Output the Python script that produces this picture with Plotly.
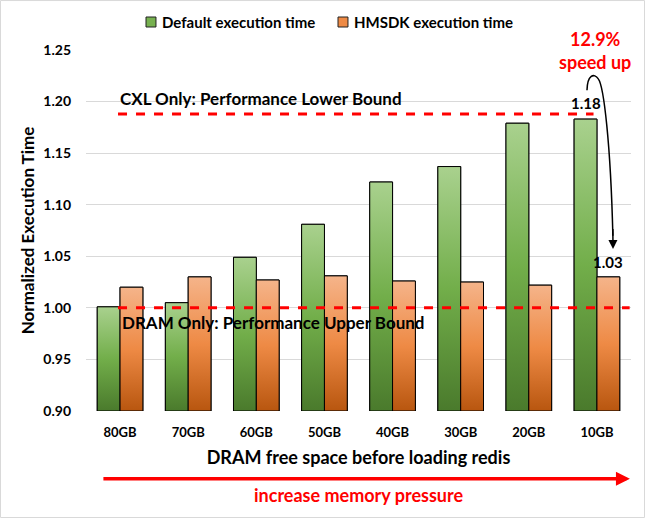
import plotly.graph_objects as go

categories = ["80GB", "70GB", "60GB", "50GB", "40GB", "30GB", "20GB", "10GB"]
default_time = [1.001, 1.005, 1.049, 1.081, 1.122, 1.137, 1.179, 1.183]
hmsdk_time = [1.020, 1.030, 1.027, 1.031, 1.026, 1.025, 1.022, 1.030]
series_names = ["Default execution time", "HMSDK execution time"]
cxl_bound = 1.188
dram_bound = 1.00
y_ticks = [0.90, 0.95, 1.00, 1.05, 1.10, 1.15, 1.20, 1.25]

FONT = "Lato"
BAR_W = 0.335
YMIN = 0.90
GREEN = "#77b150"
ORANGE = "#ee8a45"

fig = go.Figure()
idx = list(range(len(categories)))

# base bars
fig.add_trace(go.Bar(x=[i - BAR_W / 2 for i in idx], y=[v - YMIN for v in default_time], base=YMIN,
                     width=BAR_W, name=series_names[0], showlegend=False,
                     marker=dict(color=GREEN, line=dict(color="black", width=1))))
fig.add_trace(go.Bar(x=[i + BAR_W / 2 for i in idx], y=[v - YMIN for v in hmsdk_time], base=YMIN,
                     width=BAR_W, name=series_names[1], showlegend=False,
                     marker=dict(color=ORANGE, line=dict(color="black", width=1))))

green_scale = [[0, "#4a7a2c"], [0.5, "#72ae4a"], [1, "#a9d18e"]]
orange_scale = [[0, "#b8560f"], [0.5, "#ee8a45"], [1, "#f5b48a"]]

# gradient-filled bar bodies
for vals, off, scale in [(default_time, -1, green_scale), (hmsdk_time, 0, orange_scale)]:
    for i, v in zip(idx, vals):
        x0 = i + off * BAR_W
        x1 = x0 + BAR_W
        fig.add_trace(go.Scatter(
            x=[x0, x0, x1, x1, x0], y=[YMIN, v, v, YMIN, YMIN],
            mode="lines", fill="toself",
            fillgradient=dict(type="vertical", colorscale=scale, start=YMIN, stop=v),
            line=dict(color="black", width=1), showlegend=False, hoverinfo="skip"))

# bound lines
fig.add_shape(type="line", xref="x", yref="y", x0=-0.03, x1=6.95, y0=cxl_bound, y1=cxl_bound,
              line=dict(color="#ff0000", width=3, dash="dash"))
fig.add_shape(type="line", xref="x", yref="y", x0=-0.03, x1=7.48, y0=dram_bound, y1=dram_bound,
              line=dict(color="#ff0000", width=3, dash="dash"))

ann = []
# legend (manual, so it does not shrink the plot area)
leg = [(0.1101, GREEN, series_names[0]), (0.4624, ORANGE, series_names[1])]
for lx, col, name in leg:
    fig.add_shape(type="rect", xref="paper", yref="paper", x0=lx, x1=lx + 0.0183, y0=1.0637, y1=1.0914,
                  fillcolor=col, line=dict(color="#222222", width=1))
    ann.append(dict(x=lx + 0.0257, y=1.0776, xref="paper", yref="paper", xanchor="left", yanchor="middle",
                    text="<b>%s</b>" % name, showarrow=False,
                    font=dict(family=FONT, size=15, color="black")))

ann.append(dict(x=-0.03, y=1.203, xref="x", yref="y", xanchor="left", yanchor="middle",
                text="<b>CXL Only: Performance Lower Bound</b>", showarrow=False,
                font=dict(family=FONT, size=17, color="black")))
ann.append(dict(x=0.0, y=0.986, xref="x", yref="y", xanchor="left", yanchor="middle",
                text="<b>DRAM Only: Performance Upper Bound</b>", showarrow=False,
                font=dict(family=FONT, size=17, color="black")))
ann.append(dict(x=7 - BAR_W / 2, y=default_time[-1], xref="x", yref="y", yanchor="bottom", yshift=5,
                text="<b>%.2f</b>" % default_time[-1], showarrow=False,
                font=dict(family=FONT, size=15, color="black")))
ann.append(dict(x=7 + BAR_W / 2, y=hmsdk_time[-1], xref="x", yref="y", yanchor="bottom", yshift=4,
                text="<b>%.2f</b>" % hmsdk_time[-1], showarrow=False,
                font=dict(family=FONT, size=15, color="black")))
ann.append(dict(x=0.934, y=1.031, xref="paper", yref="paper", xanchor="center", yanchor="middle",
                text="<b>12.9%</b>", showarrow=False,
                font=dict(family=FONT, size=18, color="#ff0000")))
ann.append(dict(x=0.934, y=0.966, xref="paper", yref="paper", xanchor="center", yanchor="middle",
                text="<b>speed up</b>", showarrow=False,
                font=dict(family=FONT, size=18, color="#ff0000")))
# arrow head for the curved arrow
ann.append(dict(x=7.236, y=1.057, xref="x", yref="y", ax=7.233, ay=1.078, axref="x", ayref="y",
                text="", showarrow=True, arrowhead=2, arrowsize=1.2, arrowwidth=1.5, arrowcolor="black"))
# memory pressure arrow
ann.append(dict(x=0.998, y=-0.188, xref="paper", yref="paper", ax=-528, ay=0,
                text="", showarrow=True, arrowhead=2, arrowsize=0.8, arrowwidth=3.5, arrowcolor="#ff0000"))
ann.append(dict(x=0.5, y=-0.197, xref="paper", yref="paper", xanchor="center", yanchor="top",
                text="<b>increase memory pressure</b>", showarrow=False,
                font=dict(family=FONT, size=18, color="#ff0000")))

# curved arrow body
fig.add_shape(type="path", xref="x", yref="y",
              path="M 6.854,1.211 C 6.86,1.226 6.96,1.228 7.02,1.222 C 7.10,1.215 7.20,1.16 7.234,1.07",
              line=dict(color="black", width=1.5))

# figure border
fig.add_shape(type="rect", xref="paper", yref="paper", x0=-0.1569, x1=1.0248, y0=-0.295, y1=1.137,
              line=dict(color="#d9d9d9", width=1))

fig.update_layout(
    width=645, height=518,
    margin=dict(l=86, r=14, t=50, b=107),
    paper_bgcolor="white", plot_bgcolor="white",
    barmode="overlay",
    font=dict(family=FONT, color="black"),
    showlegend=False,
    annotations=ann,
)
fig.update_xaxes(range=[-0.5, 7.5], tickvals=idx, ticktext=["<b>%s</b>" % c for c in categories],
                 tickfont=dict(family=FONT, size=13, color="black"), showgrid=False,
                 showline=False, zeroline=False, ticks="", ticklabelstandoff=12,
                 title=dict(text="<b>DRAM free space before loading redis</b>",
                            font=dict(family=FONT, size=18, color="black"), standoff=12))
fig.update_yaxes(range=[0.90, 1.25], tickvals=y_ticks, ticktext=["<b>%.2f</b>" % t for t in y_ticks],
                 tickfont=dict(family=FONT, size=14, color="black"), showgrid=True,
                 gridcolor="#d9d9d9", gridwidth=1, zeroline=False, showline=False, ticks="",
                 ticklabelstandoff=14,
                 title=dict(text="<b>Normalized Execution Time</b>",
                            font=dict(family=FONT, size=17, color="black"), standoff=4))

fig.write_html("out.html")
